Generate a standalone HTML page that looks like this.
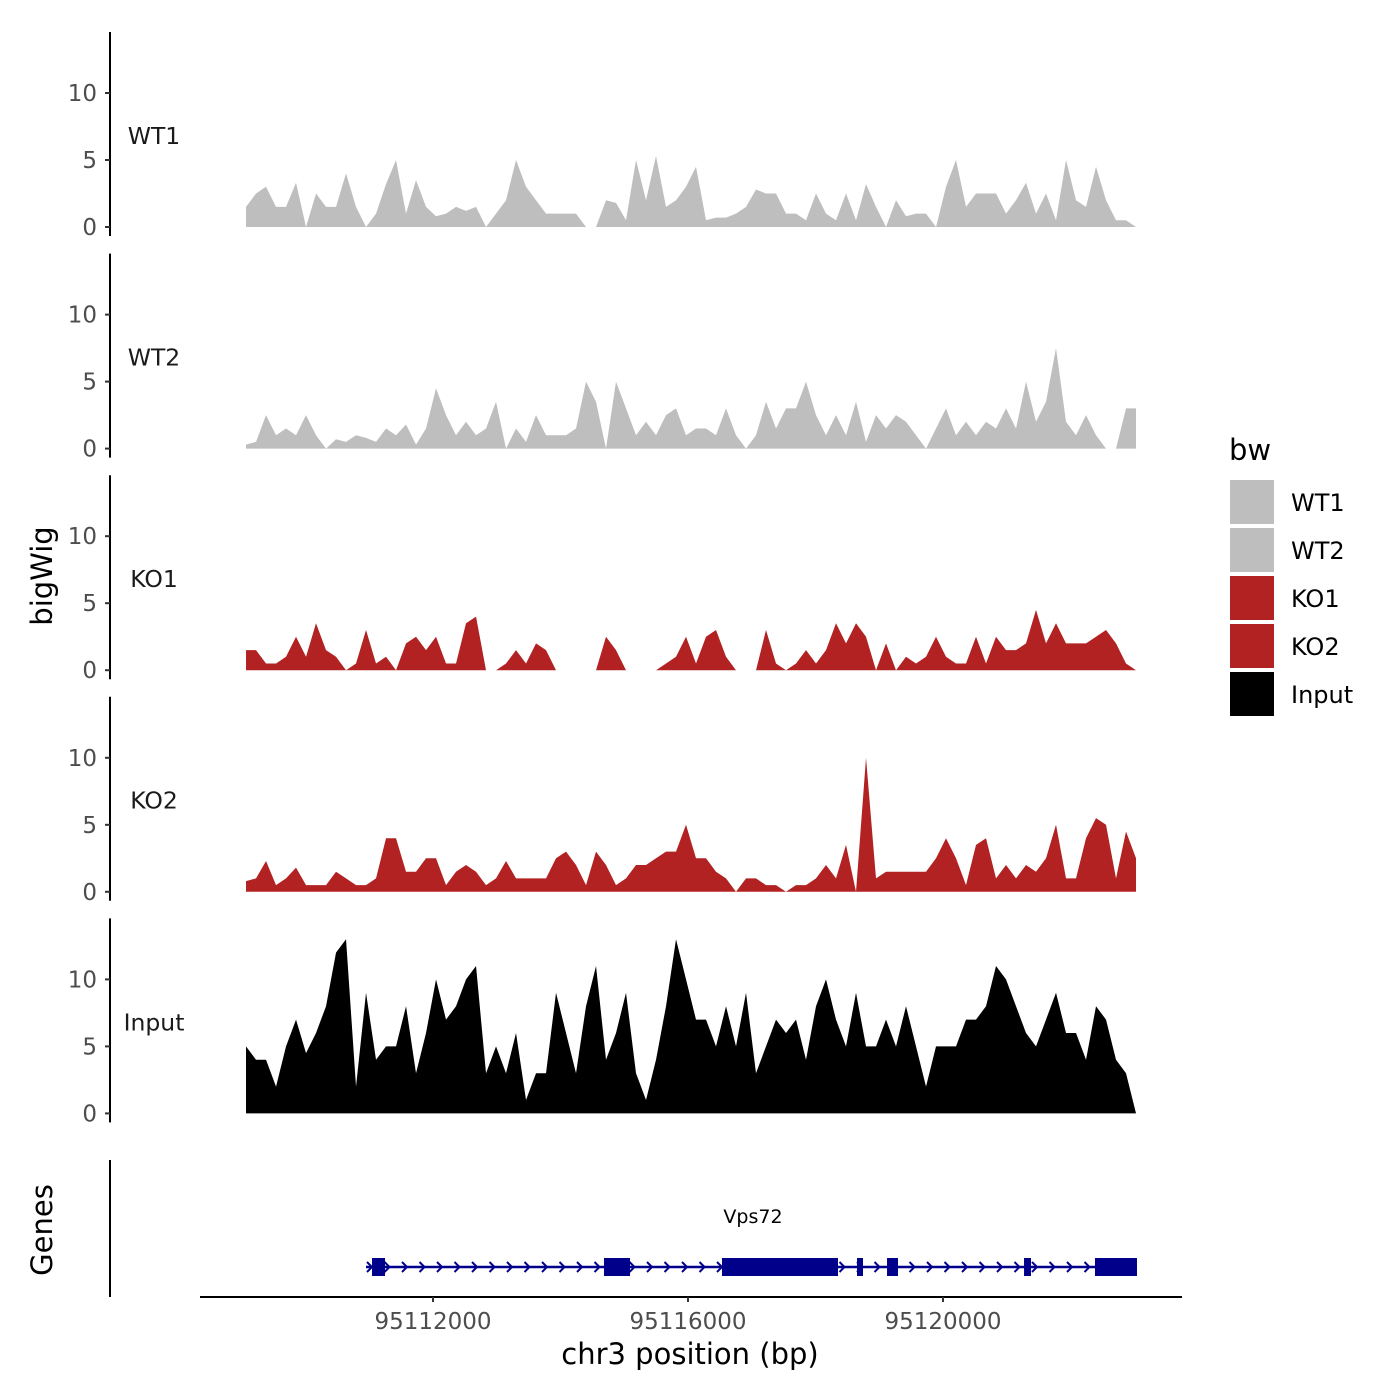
<!DOCTYPE html>
<html><head><meta charset="utf-8"><style>
body{margin:0;background:#fff;}
svg{display:block;font-family:"DejaVu Sans","Liberation Sans",sans-serif;}
</style></head><body>
<svg id="chart" width="1400" height="1400" viewBox="0 0 1400 1400"></svg>
<script>
const startBp = 95109067;
const stepBp = 156.86;
const trackNames = ["WT1","WT2","KO1","KO2","Input"];
const trackColors = ["#bebebe","#bebebe","#b22222","#b22222","#000000"];
const wt1 = [1.5,2.5,3,1.5,1.5,3.3,0,2.5,1.5,1.5,4,1.5,0,1,3.2,5,1,3.5,1.5,0.8,1,1.5,1.2,1.5,0,1,2,5,3,2,1,1,1,1,0,0,2,1.8,0.5,5,2,5.3,1.5,2,3,4.5,0.5,0.7,0.7,1,1.5,2.8,2.5,2.5,1,1,0.5,2.5,1,0.5,2.5,0.5,3.2,1.5,0,2,0.8,1,1,0,3,5,1.5,2.5,2.5,2.5,1,2,3.3,1,2.5,0.5,5,2,1.5,4.5,2,0.5,0.5,0];
const wt2 = [0.3,0.5,2.5,1,1.5,1,2.5,1,0,0.7,0.5,1,0.8,0.5,1.5,1,1.8,0.3,1.5,4.5,2.5,1,2,1,1.5,3.5,0,1.5,0.5,2.5,1,1,1,1.5,5,3.5,0,5,3,1,2,1,2.5,3,1,1.5,1.5,1,3,1,0,1,3.5,1.5,3,3,5,2.5,1,2.5,1,3.5,0.5,2.5,1.5,2.5,2,1,0,1.5,3,1,2,1,2,1.5,3,1.5,5,2,3.5,7.5,2,1,2.5,1,0,0,3,3];
const ko1 = [1.5,1.5,0.5,0.5,1,2.5,1,3.5,1.5,1,0,0.5,3,0.5,1,0,2,2.5,1.5,2.5,0.5,0.5,3.5,4,0,0,0.5,1.5,0.5,2,1.5,0,0,0,0,0,2.5,1.5,0,0,0,0,0.5,1,2.5,0.5,2.5,3,1,0,0,0,3,0.5,0,0.5,1.5,0.5,1.5,3.5,2,3.5,2.5,0,2,0,1,0.5,1,2.5,1,0.5,0.5,2.5,0.5,2.5,1.5,1.5,2,4.5,2,3.5,2,2,2,2.5,3,2,0.5,0];
const ko2 = [0.8,1,2.3,0.5,1,1.8,0.5,0.5,0.5,1.5,1,0.5,0.5,1,4,4,1.5,1.5,2.5,2.5,0.5,1.5,2,1.5,0.5,1,2.3,1,1,1,1,2.5,3,2,0.5,3,2,0.5,1,2,2,2.5,3,3,5,2.5,2.5,1.5,1,0,1,1,0.5,0.5,0,0.5,0.5,1,2,1,3.5,0,10,1,1.5,1.5,1.5,1.5,1.5,2.5,4,2.5,0.5,3.5,4,1,2,1,2,1.5,2.5,5,1,1,4,5.5,5,1,4.5,2.5];
const input = [5,4,4,2,5,7,4.5,6,8,12,13,2,9,4,5,5,8,3,6,10,7,8,10,11,3,5,3,6,1,3,3,9,6,3,8,11,4,6,9,3,1,4,8,13,10,7,7,5,8,5,9,3,5,7,6,7,4,8,10,7,5,9,5,5,7,5,8,5,2,5,5,5,7,7,8,11,10,8,6,5,7,9,6,6,4,8,7,4,3,0];
const series = [wt1,wt2,ko1,ko2,input];
const yTicks = [0,5,10];
const xTicks = [95112000,95116000,95120000];
const xTickLabels = ["95112000","95116000","95120000"];
const geneStart = 95110949, geneEnd = 95123043;
const exonStarts = [95111043,95114682,95116533,95118651,95119122,95121271,95122384];
const exonEnds = [95111247,95115090,95118353,95118745,95119294,95121380,95123043];

const NS="http://www.w3.org/2000/svg";
const svg=document.getElementById('chart');
function mk(tag,attrs,parent){const e=document.createElementNS(NS,tag);for(const k in attrs)e.setAttribute(k,attrs[k]);(parent||svg).appendChild(e);return e;}
const xScale=bp=>433+(bp-95112000)*0.06375;
const panelStep=221.6, unitPx=13.4;
const zeroY=i=>227+i*panelStep;
const yScale=(i,v)=>zeroY(i)-v*unitPx;

series.forEach((vals,i)=>{
  const g=mk('g',{});
  
  
  const ax=mk('line',{x1:110,x2:110,y1:32+i*panelStep,y2:zeroY(i)+9,stroke:'#000','stroke-width':2},g);
  
  
  yTicks.forEach(t=>{
    const y=yScale(i,t);
    mk('line',{x1:105,x2:110,y1:y,y2:y,stroke:'#333','stroke-width':2},g);
    const tl=mk('text',{x:97,y:y+8,'text-anchor':'end','font-size':23,fill:'#4d4d4d'},g);
    tl.textContent=t;
    
    
  });
  let d='M'+xScale(startBp)+','+zeroY(i);
  vals.forEach((v,k)=>{d+=' L'+xScale(startBp+k*stepBp).toFixed(2)+','+yScale(i,v).toFixed(2);});
  d+=' L'+xScale(startBp+(vals.length-1)*stepBp).toFixed(2)+','+zeroY(i)+' Z';
  const p=mk('path',{d:d,fill:trackColors[i]},g);
  
  
  const lab=mk('text',{x:154,y:yScale(i,6.8)+8,'text-anchor':'middle','font-size':23.5,fill:'#1a1a1a'},g);
  lab.textContent=trackNames[i];
  
  
});

const gg=mk('g',{});


mk('line',{x1:110,x2:110,y1:1160,y2:1297,stroke:'#000','stroke-width':2},gg);
const gy=1267;
const gl=mk('line',{x1:xScale(geneStart),x2:xScale(geneEnd),y1:gy,y2:gy,stroke:'#00008b','stroke-width':2.5},gg);


for(let x=xScale(geneStart)+4;x<xScale(geneEnd);x+=17.5){
  mk('polyline',{points:(x-3)+','+(gy-5)+' '+(x+2)+','+gy+' '+(x-3)+','+(gy+5),fill:'none',stroke:'#00008b','stroke-width':2},gg);
}
exonStarts.forEach((s,k)=>{
  const r=mk('rect',{x:xScale(s),y:gy-9,width:xScale(exonEnds[k])-xScale(s),height:18,fill:'#00008b'},gg);
  
  
});
const gn=mk('text',{x:753,y:1223,'text-anchor':'middle','font-size':19,fill:'#000'},gg);
gn.textContent='Vps72';



const xa=mk('line',{x1:200,x2:1182,y1:1297,y2:1297,stroke:'#000','stroke-width':2});


xTicks.forEach((t,k)=>{
  const x=xScale(t);
  mk('line',{x1:x,x2:x,y1:1297,y2:1302,stroke:'#333','stroke-width':2});
  const tl=mk('text',{x:x,y:1329,'text-anchor':'middle','font-size':23,fill:'#4d4d4d'});
  tl.textContent=xTickLabels[k];
  
  
});
const xt=mk('text',{x:690,y:1364,'text-anchor':'middle','font-size':29,fill:'#000'});
xt.textContent='chr3 position (bp)';


const yt=mk('text',{x:0,y:0,'text-anchor':'middle','font-size':29,fill:'#000',transform:'translate(52,576) rotate(-90)'});
yt.textContent='bigWig';


const gt=mk('text',{x:0,y:0,'text-anchor':'middle','font-size':29,fill:'#000',transform:'translate(52,1230) rotate(-90)'});
gt.textContent='Genes';



const lg=mk('g',{});


const lt=mk('text',{x:1229,y:460,'font-size':29,fill:'#000'},lg);
lt.textContent='bw';


trackNames.forEach((n,k)=>{
  const e=mk('g',{},lg);
  
  
  mk('rect',{x:1230,y:480+k*48,width:44,height:44,fill:trackColors[k]},e);
  const t=mk('text',{x:1291,y:511+k*48,'font-size':24,fill:'#000'},e);
  t.textContent=n;
});
</script>
</body></html>
